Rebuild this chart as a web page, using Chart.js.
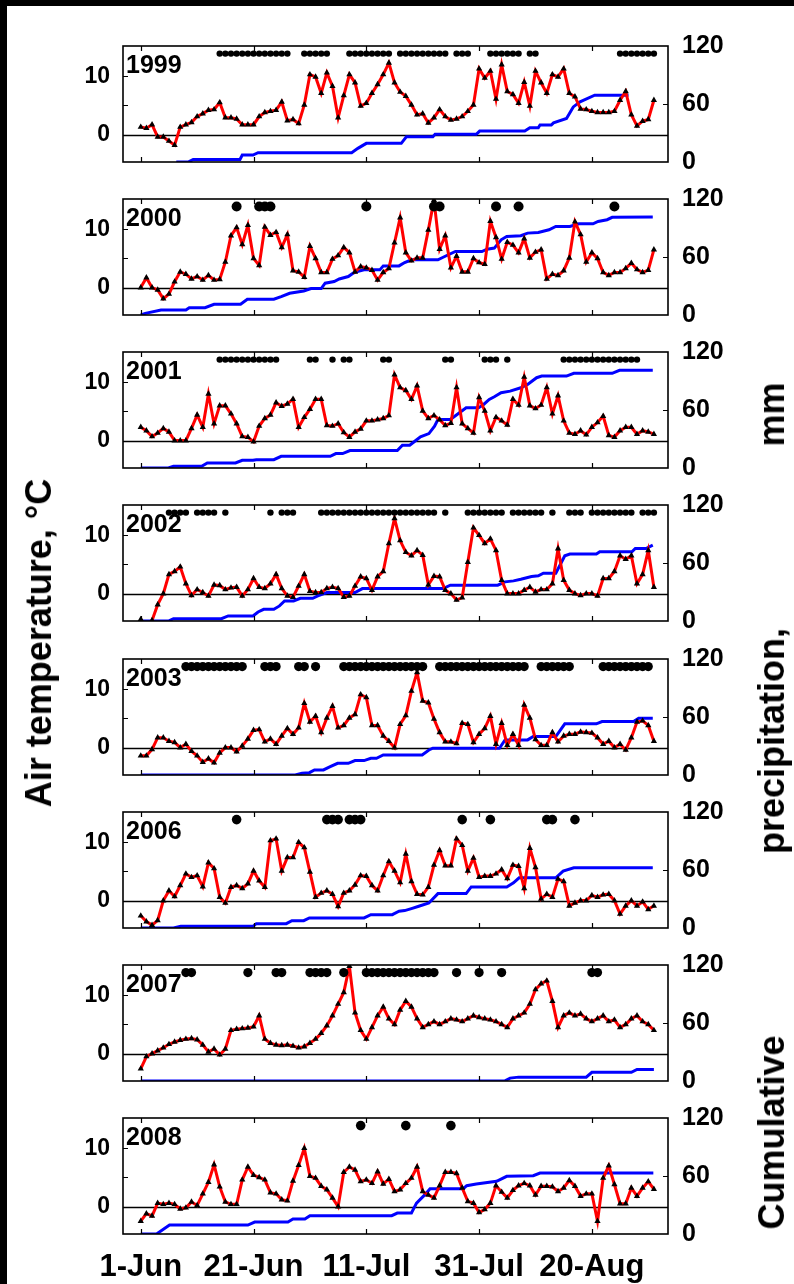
<!DOCTYPE html>
<html><head><meta charset="utf-8">
<script src="https://cdn.jsdelivr.net/npm/chart.js@4.4.1/dist/chart.umd.min.js"></script>
<style>
html,body{margin:0;padding:0;background:#fff;}
body{width:794px;height:1284px;position:relative;overflow:hidden;font-family:"Liberation Sans",Arial,sans-serif;}
.bar{position:absolute;background:#000;}
canvas{position:absolute;left:0;}
.title{position:absolute;font-weight:bold;white-space:nowrap;color:#000;font-size:36px;line-height:36px;}
#tl{left:38.5px;top:643px;transform:translate(-50%,-50%) rotate(-90deg);}
#tr{left:772px;top:806px;width:847px;display:flex;justify-content:space-between;transform:translate(-50%,-50%) rotate(-90deg);}
</style></head><body>
<div class="bar" style="left:0;top:0;width:794px;height:6px"></div>
<div class="bar" style="left:0;top:0;width:7px;height:1284px"></div>
<div id="wrap"></div>
<div class="title" id="tl">Air temperature, °C</div>
<div class="title" id="tr"><span>Cumulative</span><span>precipitation,</span><span>mm</span></div>
<script>
// ---------------- data ----------------
const years = ['1999','2000','2001','2002','2003','2006','2007','2008'];
const dateLabels = ['1-Jun','21-Jun','11-Jul','31-Jul','20-Aug'];
const dateTicks = [0,20,40,60,80];       // days after 1 June
const tempTicks = [0,10];
const precipTicks = [0,60,120];

// daily mean air temperature (°C), 1 Jun .. 31 Aug
const temp1999 = [1.3,1.1,1.7,-0.4,-0.4,-1.1,-1.8,1.3,1.7,2.1,3.1,3.6,4.2,4.3,5.5,2.9,2.9,2.7,1.7,1.7,1.7,3.1,3.8,4.0,4.2,5.6,2.4,2.6,1.9,5.1,10.3,9.9,7.1,10.6,8.3,2.9,6.7,10.3,8.9,4.9,5.4,7.1,8.6,10.3,12.3,8.9,7.3,6.6,5.1,3.4,3.6,2.0,2.9,4.3,3.1,2.5,2.7,3.1,4.0,5.1,11.3,9.7,10.9,6.1,12.0,7.4,6.9,5.4,9.0,4.9,10.9,8.9,7.1,10.3,9.9,11.3,7.1,6.5,4.4,4.3,4.0,3.8,3.8,3.8,4.0,5.9,7.4,3.4,1.5,2.3,2.6,5.9];
const temp2000 = [0,1.7,0,-0.4,-1.9,-1.1,1.0,2.7,2.3,1.5,1.9,1.3,2.1,1.3,1.4,4.4,8.9,10.3,7.4,10.7,5.0,3.8,10.4,9.0,9.5,6.9,9.1,2.9,2.7,1.8,7.1,5.0,2.6,2.6,4.9,5.5,6.9,6.0,2.7,3.6,3.4,3.0,1.3,2.6,3.3,7.7,12.0,6.0,4.6,5.1,5.1,9.9,15.0,6.6,8.9,3.4,5.4,2.7,2.7,5.0,4.3,4.0,11.4,8.6,4.9,7.8,7.3,6.0,8.4,5.1,6.1,6.5,1.5,2.3,2.1,2.9,5.1,11.3,9.1,4.4,6.0,5.0,2.6,2.1,2.6,2.6,3.3,4.2,3.1,2.6,3.0,6.5];
const temp2001 = [2.3,1.7,0.7,1.3,2.1,1.5,0,0,0,2.1,4.4,2.3,8.0,2.9,6.0,6.0,4.6,2.9,0.7,0.6,-0.2,2.5,3.8,4.4,6.5,5.9,6.3,7.1,2.3,4.0,5.4,7.1,7.1,2.6,2.5,2.9,1.4,0.6,1.5,2.0,3.4,3.4,3.6,3.8,4.3,11.3,9.1,8.6,7.1,9.4,5.1,3.8,4.3,3.6,2.6,3.0,9.1,2.9,2.1,1.3,7.4,5.1,1.7,4.0,3.4,2.7,7.1,6.1,10.9,6.0,5.5,6.1,9.1,4.6,7.7,3.4,1.3,1.1,1.7,1.0,2.3,3.1,4.2,0.9,0.6,1.7,2.3,2.3,1.1,1.7,1.5,1.1];
const temp2002 = [-4.4,-6.5,-4.6,-1.9,0,3.3,3.8,4.6,1.7,-0.3,0.7,0.2,-0.4,1.5,1.4,0.7,1.0,1.1,-0.4,0.7,2.6,1.1,0.9,1.7,3.3,0.9,-0.4,-0.6,1.3,3.3,0.4,0.2,0.2,0.9,1.1,0.9,-0.6,-0.4,1.3,2.9,2.6,0.6,2.9,3.8,8.6,12.9,9.1,7.1,6.5,7.4,6.6,1.5,3.0,2.9,0.6,0,-1.1,-0.7,5.4,11.3,10.0,8.6,9.4,7.4,2.3,0,0,0,0.6,1.1,0.3,0.7,0.7,1.7,7.7,2.3,0.6,0,-0.3,0,0,-0.4,2.6,2.6,3.8,6.5,5.9,6.5,1.7,3.3,7.4,1.1];
const temp2003 = [-1.4,-1.4,-0.3,1.7,1.7,1.1,0.9,0,0.6,-0.6,-1.4,-2.5,-1.9,-2.6,-0.9,0,0,-0.7,0.3,1.5,3.0,3.1,1.0,1.5,0.6,2.0,3.3,2.3,3.4,7.6,4.4,5.4,2.6,5.1,7.1,3.4,3.8,5.1,5.7,9.1,8.6,3.8,3.8,2.0,1.1,0,4.0,5.5,9.7,12.9,8.0,7.7,4.9,2.6,1.0,1.0,0.7,4.2,4.0,0.9,2.3,3.3,5.4,0.6,4.2,0.4,2.3,0.4,7.3,5.1,1.4,0.4,0.4,2.6,1.0,2.0,2.3,2.3,2.7,2.6,2.5,1.7,0.6,1.1,0,0.6,-0.4,1.7,4.4,4.6,3.8,1.1];
const temp2006 = [-2.6,-3.6,-4.2,-3.4,0,1.7,0.7,2.6,4.6,4.0,4.3,2.4,6.5,5.5,0.6,-0.4,2.3,2.6,2.1,2.9,5.1,3.4,2.3,10.3,10.6,5.1,7.4,7.4,10.0,9.1,4.9,0.6,1.3,1.7,1.1,-1.0,1.3,1.7,2.7,4.3,4.2,2.6,1.7,4.3,6.7,5.1,3.1,8.0,3.3,1.1,1.0,2.3,6.1,8.6,6.0,6.0,10.6,9.5,5.1,7.3,4.0,4.2,4.2,4.6,5.3,3.8,6.1,5.9,2.1,9.0,5.7,0.3,1.1,0.6,3.7,3.3,-0.9,-0.4,0,0,0.9,0.6,1.0,1.1,0,-2.3,-0.9,0,-0.9,-0.2,-1.5,-0.9];
const temp2007 = [-2.6,-0.5,0,0.5,1.0,1.6,2.0,2.3,2.5,2.6,2.4,1.5,0.3,0.8,-0.2,0.8,4.0,4.2,4.3,4.4,4.6,6.5,2.5,1.8,1.5,1.4,1.5,1.3,1.0,1.2,1.8,2.5,3.5,4.8,6.5,8.5,10.5,15.0,7.0,4.0,2.5,4.5,6.5,8.0,6.0,5.0,7.5,9.0,8.0,6.0,4.5,5.0,5.5,5.0,5.5,6.0,5.8,5.5,6.0,6.5,6.2,6.0,5.8,5.5,5.0,4.5,6.0,6.5,7.0,8.5,11.0,12.0,12.5,9.0,4.5,6.5,7.0,6.5,6.8,6.0,5.5,6.0,6.5,5.5,5.8,4.5,5.0,6.0,6.5,5.5,5.0,4.0];
const temp2008 = [-2.5,-1.2,-1.6,0.6,0.4,0.6,0.4,-0.4,-0.2,0.8,0.2,2.2,4.2,7.2,3.4,0.8,0.4,0.4,4.6,6.8,5.4,5.0,4.6,2.4,2.2,1.2,1.0,4.4,7.1,10.0,5.2,4.9,3.5,2.9,1.5,0,5.9,6.8,6.3,4.3,4.6,4.0,6.0,3.9,4.7,2.6,2.9,4.0,4.9,6.8,2.6,2.0,1.5,3.6,5.9,5.9,5.7,3.2,0.9,0.6,-1.0,-0.5,0.6,3.6,2.5,1.5,2.8,3.6,4.0,3.6,2.0,3.5,3.5,3.4,2.6,3.2,4.5,3.5,1.8,2.2,2.2,-2.5,4.9,7.0,3.8,0.5,0.5,3.2,1.8,3.2,4.3,3.0];

// cumulative precipitation (mm): [day after 1 Jun, mm]
const precip1999 = [[6.3,0],[8.4,0],[9.3,2.7],[17.6,2.7],[18,7.2],[19.9,7.2],[20.8,9.6],[37.4,9.6],[38.5,14.1],[40,19.3],[46.2,19.3],[47.1,26],[51.8,26],[52.2,28.6],[59.5,28.6],[60.1,32],[68.1,32],[69,35.4],[70.5,35.4],[70.8,38.2],[72.8,38.2],[73.2,40.5],[75.5,45],[76.7,57],[77.9,62.2],[80.5,69.1],[86.5,69.1]];
const precip2000 = [[0,0],[0.8,1.7],[3.6,5.2],[8,5.2],[8.6,7.6],[11.4,7.6],[13,11.1],[17.7,11.1],[18.9,16.3],[23.6,16.3],[24.9,19],[26.4,22.5],[28.9,24.9],[30.2,27.3],[32,27.3],[32.7,32.9],[34.3,34.6],[35.2,37.3],[36.8,39.8],[37.9,44.3],[39.6,46.7],[42.4,46.7],[43,50.8],[45.8,50.8],[46.8,54.3],[48,57.1],[52.7,57.1],[53.9,60.5],[55.8,65.7],[60.5,65.7],[61.4,68.1],[62.7,69.2],[63.9,77.8],[64.9,81.3],[67.4,82],[68.6,84.7],[70.5,85.4],[72.4,88.2],[73.6,91.6],[76.1,91.6],[77.7,94.4],[80.2,94.4],[81.1,96.8],[82.7,98.6],[83.6,101],[90.8,101.3]];
const precip2001 = [[0,0],[4.9,0],[5.8,1.7],[10.8,1.7],[11.8,5.2],[16.8,5.2],[18,8],[19.9,8],[20.5,8.6],[23.6,8.6],[24.9,12.1],[33.6,12.1],[34.6,14.9],[35.8,14.9],[37.1,18],[45.5,18],[46.4,23.5],[47.7,23.5],[48.6,27.7],[49.6,32.2],[51.1,35.6],[52.1,43.2],[52.7,50.1],[54.9,50.1],[56.1,55.3],[57.7,62.2],[59.9,62.2],[60.8,65.7],[61.8,70.9],[62.7,73.7],[63.9,77.8],[65.5,79.5],[67.4,83],[68.6,86.5],[70.2,93.4],[71.1,95.1],[75.5,95.1],[76.8,97.9],[83.6,97.9],[84.9,101],[90.8,101]];
const precip2002 = [[0,0],[4.9,0],[5.8,2.4],[14.3,2.4],[15.5,5.2],[19.9,5.2],[20.8,9.3],[21.8,12.1],[23.6,12.1],[24.6,15.6],[25.5,20.7],[27.1,20.7],[28.3,23.5],[30.5,23.5],[31.4,25.9],[33,29.4],[38,29.4],[39.3,33.5],[53.6,33.5],[54.9,37],[63.3,37],[64.6,40.5],[66.1,41.5],[67.4,43.2],[69.3,46],[70.5,46.7],[71.4,49.4],[73.6,49.4],[75.2,67.4],[76.1,69.2],[80.8,69.2],[81.4,71.6],[87.1,71.6],[87.7,75],[89.6,75],[90.8,78.5]];
const precip2003 = [[0,0],[27.4,0],[28.6,1.7],[29.9,2.4],[30.8,5.2],[32.4,5.2],[33.6,8.6],[34.9,12.1],[36.8,12.1],[38,14.9],[39.6,14.9],[40.8,17.3],[41.8,17.3],[43,20.7],[49.9,20.7],[51.1,25.9],[51.8,27.7],[63.6,27.7],[64.6,36.3],[68.6,36.3],[69.6,39.8],[73.6,39.8],[75.2,52.9],[80.8,52.9],[81.8,55.3],[87.4,55.3],[88.3,58.8],[90.8,58.8]];
const precip2006 = [[0,0],[5.8,0],[7.1,1.7],[19.9,1.7],[20.5,4.5],[25.8,4.5],[26.8,7.6],[28.9,7.6],[29.9,10.4],[39.6,10.4],[40.8,13.8],[44.6,13.8],[45.8,17.3],[46.8,18],[48,20.1],[49.3,22.5],[51.1,25.9],[52.7,35.6],[57.7,35.6],[58.6,42.5],[64.9,42.5],[66.1,46.7],[67.1,51.9],[73.6,51.9],[74.9,58.8],[76.8,62.2],[90.8,62.2]];
const precip2007 = [[0,0],[64.5,0],[65.5,3],[67,4],[79,4],[80,9],[87,9],[88,12],[91,12]];
const precip2008 = [[0,0],[2.8,0],[5.1,9.3],[19,9.3],[20.2,12.4],[26.1,12.4],[27,15.5],[29.1,15.5],[30,19],[44.5,19],[45.5,21.7],[48,21.7],[48.9,32],[50.4,40.7],[51.3,46.9],[57.2,46.9],[57.8,50],[59.5,51.7],[63.1,54.5],[64.9,59.7],[69.6,60.3],[70.8,63.1],[90.9,63.1]];

// days marked with a dot
const marks1999 = [14,15,16,17,18,19,20,21,22,23,24,25,26,29,30,31,32,33,37,38,39,40,41,42,43,44,46,47,48,49,50,51,52,53,54,56,57,58,62,63,64,65,66,67,69,70,85,86,87,88,89,90,91];
const marks2000 = [17,21,22,23,40,52,53,63,67,84];
const marks2001 = [14,15,16,17,18,19,20,21,22,23,24,30,31,34,36,37,43,44,54,55,61,62,63,65,75,76,77,78,79,80,81,82,83,84,85,86,87,88];
const marks2002 = [5,6,7,8,10,11,12,13,15,23,25,26,27,32,33,34,35,36,37,38,39,40,41,42,43,44,45,46,47,48,49,50,51,52,54,58,59,60,61,62,63,64,66,67,68,69,70,71,73,76,77,78,80,81,82,83,84,85,86,87,89,90,91];
const marks2003 = [8,9,10,11,12,13,14,15,16,17,18,22,23,24,28,29,31,36,37,38,39,40,41,42,43,44,45,46,47,48,49,50,53,54,55,56,57,58,59,60,61,62,63,64,65,66,67,68,71,72,73,74,75,76,82,83,84,85,86,87,88,89,90];
const marks2006 = [17,33,34,35,37,38,39,57,62,72,73,77];
const marks2007 = [8,9,19,24,25,30,31,32,33,36,40,41,42,43,44,45,46,47,48,49,50,51,52,56,60,64,80,81];
const marks2008 = [39,47,55];

const tempSeries = [temp1999,temp2000,temp2001,temp2002,temp2003,temp2006,temp2007,temp2008];
const precipSeries = [precip1999,precip2000,precip2001,precip2002,precip2003,precip2006,precip2007,precip2008];
const markSeries = [marks1999,marks2000,marks2001,marks2002,marks2003,marks2006,marks2007,marks2008];

// ---------------- styling / layout ----------------
const FONT = '"Liberation Sans", Arial, sans-serif';
Chart.defaults.font.family = FONT;
const markRadius = [3.2,5,3.2,3.2,4.6,4.8,4.6,4.8];
const MARK_LEVEL = 13.9;
const TOP0 = 45.7, STEP = 153.2, PLOT_H = 116;

const decor = {
  id:'decor',
  beforeDatasetsDraw(chart){
    const {ctx, chartArea:a, scales} = chart;
    const y0 = Math.round(scales.yT.getPixelForValue(0)) + 0.5;
    ctx.save(); ctx.strokeStyle='#000'; ctx.lineWidth=1.3;
    ctx.beginPath(); ctx.moveTo(a.left,y0); ctx.lineTo(a.right,y0); ctx.stroke();
    ctx.restore();
  },
  afterDatasetsDraw(chart, args, opts){
    const {ctx, chartArea:a, scales} = chart;
    ctx.save();
    ctx.strokeStyle='#000'; ctx.lineWidth=1.6;
    ctx.strokeRect(a.left, a.top, a.right-a.left, a.bottom-a.top);
    ctx.lineWidth=1.2;
    ctx.beginPath();
    dateTicks.forEach(v=>{
      const x = Math.round(scales.x.getPixelForValue(v))+0.5;
      ctx.moveTo(x,a.bottom); ctx.lineTo(x,a.bottom-5);
      ctx.moveTo(x,a.top); ctx.lineTo(x,a.top+5);
    });
    [5,10].forEach(v=>{
      const y = Math.round(scales.yT.getPixelForValue(v))+0.5;
      ctx.moveTo(a.left,y); ctx.lineTo(a.left+5,y);
    });
    [60].forEach(v=>{
      const y = Math.round(scales.yP.getPixelForValue(v))+0.5;
      ctx.moveTo(a.right,y); ctx.lineTo(a.right-5,y);
    });
    ctx.stroke();
    ctx.fillStyle='#000';
    ctx.font = 'bold 25px ' + FONT;
    ctx.textBaseline='alphabetic'; ctx.textAlign='left';
    ctx.fillText(opts.year, a.left+3, a.top+27);
    ctx.restore();
  }
};

const wrap = document.getElementById('wrap');
years.forEach((yr,i)=>{
  const last = i === years.length-1;
  const top = Math.round(TOP0 + i*STEP);
  const padTop = 30, padBottom = last ? 70 : 30;
  const c = document.createElement('canvas');
  c.width = 794; c.height = PLOT_H + padTop + padBottom;
  c.style.top = (top - padTop) + 'px';
  wrap.appendChild(c);
  new Chart(c, {
    type:'line',
    data:{datasets:[
      {type:'scatter', data: markSeries[i].map(d=>({x:d,y:MARK_LEVEL})), yAxisID:'yT', xAxisID:'x',
       pointRadius: markRadius[i], pointBackgroundColor:'#000', pointBorderWidth:0, showLine:false, order:0},
      {data: tempSeries[i].map((v,d)=>({x:d,y:v})), yAxisID:'yT', xAxisID:'x',
       borderColor:'#ff0000', borderWidth:3, tension:0, pointStyle:'triangle', pointRadius:3.6,
       pointBackgroundColor:'#000', pointBorderColor:'#000', pointBorderWidth:0, order:1},
      {data: precipSeries[i].map(p=>({x:p[0],y:p[1]})), yAxisID:'yP', xAxisID:'x',
       borderColor:'#0000ff', borderWidth:3, tension:0, pointRadius:0, order:2}
    ]},
    options:{
      responsive:false, animation:false, devicePixelRatio:1,
      layout:{padding:{top:padTop, left:0, right:0, bottom:0}},
      plugins:{legend:{display:false}, tooltip:{enabled:false}, decor:{year:yr}},
      scales:{
        x:{type:'linear', position:'bottom', min:-3.15, max:93.5,
           afterBuildTicks: s=>{ s.ticks = dateTicks.map(v=>({value:v})); },
           afterFit: s=>{ s.height = padBottom; },
           grid:{display:false, drawTicks:false}, border:{display:false},
           ticks:{display:last, autoSkip:false, maxRotation:0, color:'#000', padding:15,
                  font:{size:31, weight:'bold'}, callback:(v,idx)=>dateLabels[idx]}},
        yT:{position:'left', min:-4.7, max:15.2,
           afterBuildTicks: s=>{ s.ticks = tempTicks.map(v=>({value:v})); },
           afterFit: s=>{ s.width = 123; },
           grid:{display:false, drawTicks:false}, border:{display:false},
           ticks:{color:'#000', padding:13, font:{size:23, weight:'bold'}}},
        yP:{position:'right', min:0, max:120,
           afterBuildTicks: s=>{ s.ticks = precipTicks.map(v=>({value:v})); },
           afterFit: s=>{ s.width = 126; },
           grid:{display:false, drawTicks:false}, border:{display:false},
           ticks:{color:'#000', padding:14, font:{size:25, weight:'bold'}}}
      }
    },
    plugins:[decor]
  });
});
</script>
</body></html>
